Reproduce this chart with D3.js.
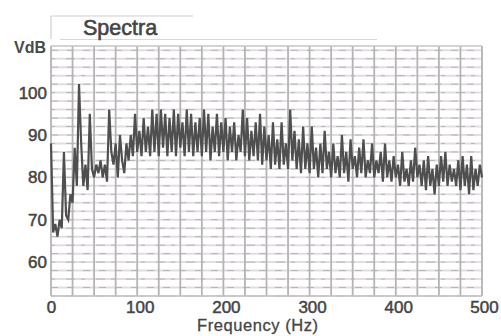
<!DOCTYPE html>
<html><head><meta charset="utf-8">
<script src="https://cdn.jsdelivr.net/npm/d3@7"></script>
<style>
html,body{margin:0;padding:0;background:#fff;}
svg{display:block;}
text{font-family:"Liberation Sans",Arial,sans-serif;}
</style></head>
<body>
<script>
// ---- data ----
const title = "Spectra";
const yLabel = "VdB";
const xLabel = "Frequency (Hz)";
const xTicks = [0, 100, 200, 300, 400, 500];
const yTicks = [60, 70, 80, 90, 100];
const binHz = 2.5; // spectrum bin width (Hz)
const vdb = [
 88,67,69,66,70,68,86,71,70,76,74,87,78,102,88,78,83,77,95,82,
 80,83,81,84,80,83,79,96,86,83,88,80,90,84,81,88,84,90,85,95,
 86,91,85,94,86,92,85,96,86,95,85,96,87,95,85,94,86,96,85,95,
 87,93,85,96,86,95,85,93,86,94,85,96,86,95,84,92,86,95,85,93,
 86,94,84,92,86,93,84,90,86,96,85,94,84,91,85,93,84,95,83,92,
 84,90,82,93,83,89,82,93,83,88,82,96,84,91,82,89,81,92,82,88,
 81,92,82,87,80,88,81,91,82,86,80,88,81,85,80,90,81,86,79,89,
 82,85,80,87,81,89,80,84,81,88,80,84,81,86,79,88,80,84,79,85,
 80,83,78,86,79,82,78,84,79,87,80,83,78,84,77,85,78,82,76,83,
 78,85,79,86,78,83,79,82,78,84,77,85,78,83,76,85,77,82,78,83,
 80
];

const W = 501, H = 336;
const svg = d3.select("body").append("svg").attr("width", W).attr("height", H);
const x = d3.scaleLinear().domain([0, 500]).range([51, 482]);
const y = d3.scaleLinear().domain([52, 111]).range([296, 46]);

// title frame
const fr = svg.append("g").attr("stroke", "#cfcfcf").attr("stroke-width", 1.2).attr("fill", "none");
fr.append("line").attr("x1", 51).attr("x2", 193).attr("y1", 16).attr("y2", 16);
fr.append("line").attr("x1", 51).attr("x2", 51).attr("y1", 16).attr("y2", 39);
fr.append("line").attr("x1", 60).attr("x2", 377).attr("y1", 39.5).attr("y2", 39.5).attr("stroke", "#d8d8d8");
svg.append("text").attr("x", 83).attr("y", 35).attr("font-size", 21.5).attr("fill", "#454545")
  .attr("stroke", "#454545").attr("stroke-width", 0.6).text(title);

// grid
const grid = svg.append("g");
const hLevels = d3.range(52, 111, 2);
grid.selectAll("line.h").data(hLevels).join("line").attr("class", "h")
  .attr("x1", x(0)).attr("x2", x(500)).attr("y1", d => y(d)).attr("y2", d => y(d))
  .attr("stroke", "#e4dce4").attr("stroke-width", 2);
grid.selectAll("line.hd").data(hLevels).join("line").attr("class", "hd")
  .attr("x1", x(0)).attr("x2", x(500)).attr("y1", d => y(d)).attr("y2", d => y(d))
  .attr("stroke", "#b5b5b5").attr("stroke-width", 1).attr("stroke-dasharray", (d, i) => i % 2 ? "7,9" : "4,11,9,6");
grid.selectAll("line.v").data(d3.range(0, 501, 25)).join("line").attr("class", "v")
  .attr("x1", d => x(d)).attr("x2", d => x(d)).attr("y1", y(111)).attr("y2", y(52))
  .attr("stroke", "#b4b4b4").attr("stroke-width", 1.8);
grid.append("line").attr("x1", x(0)).attr("x2", x(500)).attr("y1", y(111)).attr("y2", y(111))
  .attr("stroke", "#c4c4c4").attr("stroke-width", 1.5);
grid.append("line").attr("x1", x(0)).attr("x2", x(500)).attr("y1", y(52)).attr("y2", y(52))
  .attr("stroke", "#c4c4c4").attr("stroke-width", 1.5);

// spectrum line
const line = d3.line().x((d, i) => x(i * binHz)).y(d => y(d));
svg.append("path").datum(vdb).attr("d", line).attr("fill", "none")
  .attr("stroke", "#4f4f4f").attr("stroke-width", 2.2).attr("stroke-linejoin", "miter");

// axes
const yAxis = svg.append("g").attr("transform", "translate(47,0)")
  .call(d3.axisLeft(y).tickValues(yTicks).tickSize(0).tickPadding(0));
yAxis.select(".domain").remove();
yAxis.selectAll("text").attr("font-size", 17).attr("fill", "#454545").attr("stroke", "#454545")
  .attr("stroke-width", 0.5).attr("font-family", "Liberation Sans, Arial, sans-serif");

const xAxis = svg.append("g").attr("transform", "translate(1,301)")
  .call(d3.axisBottom(x).tickValues(xTicks).tickSize(0).tickPadding(0).tickFormat(d3.format("d")));
xAxis.select(".domain").remove();
xAxis.selectAll("text").attr("font-size", 17).attr("fill", "#454545").attr("stroke", "#454545")
  .attr("stroke-width", 0.5).attr("font-family", "Liberation Sans, Arial, sans-serif")
  .attr("dx", d => d === 0 ? -1 : d === 500 ? 1 : 1.5);

svg.append("text").attr("x", 14).attr("y", 53).attr("font-size", 16).attr("font-weight", "bold")
  .attr("fill", "#4a4a4a").text(yLabel);
svg.append("text").attr("x", 197).attr("y", 331).attr("font-size", 16.5).attr("fill", "#454545")
  .attr("stroke", "#454545").attr("stroke-width", 0.3).attr("textLength", 121).text(xLabel);
</script>
</body></html>
